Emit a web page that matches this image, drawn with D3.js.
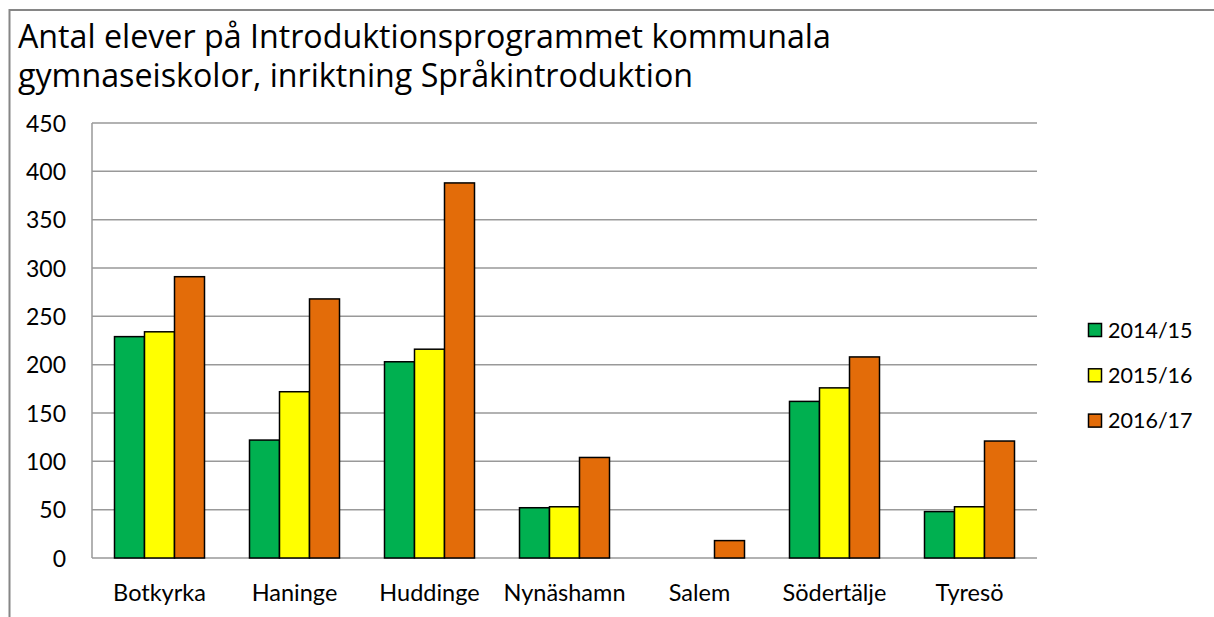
<!DOCTYPE html>
<html>
<head>
<meta charset="utf-8">
<script src="https://cdn.jsdelivr.net/npm/d3@7"></script>
<style>
  body { margin: 0; background: white; }
  text { font-family: Lato, "Open Sans", sans-serif; fill: #000; }
</style>
</head>
<body>
<div id="chart"></div>
<script>
let width = 1214;
let height = 617;

let titleLines = ["Antal elever på Introduktionsprogrammet kommunala",
                  "gymnaseiskolor, inriktning Språkintroduktion"];

let kommuner = ["Botkyrka", "Haninge", "Huddinge", "Nynäshamn", "Salem", "Södertälje", "Tyresö"];
let serier = ["2014/15", "2015/16", "2016/17"];
let farger = ["#00B050", "#FFFF00", "#E36C09"];

let v2014 = [229, 122, 203, 52, 0, 162, 48];
let v2015 = [234, 172, 216, 53, 0, 176, 53];
let v2016 = [291, 268, 388, 104, 18, 208, 121];

let yTicks = [0, 50, 100, 150, 200, 250, 300, 350, 400, 450];

let values = [v2014, v2015, v2016];

let svg = d3.select("#chart")
	.append("svg")
	.attr("width", width)
	.attr("height", height)
	.style("background-color", "white");

// chart border (only top and left visible in the picture)
svg.append("rect")
	.attr("x", 9.5).attr("y", 10)
	.attr("width", 1240).attr("height", 640)
	.attr("fill", "none")
	.attr("stroke", "#868686")
	.attr("stroke-width", 2);

let title = svg.append("text")
	.style("font-family", "'Open Sans', sans-serif")
	.style("font-size", "100px");
title.selectAll("tspan")
	.data(titleLines)
	.enter().append("tspan")
	.attr("x", 18)
	.attr("y", function(d, i){ return 48 + i * 39; })
	.text(function(d){ return d; });
// fit first line to the width it has in the picture
let w100 = title.select("tspan").node().getComputedTextLength();
title.style("font-size", (100 * 813 / w100) + "px");

let plotLeft = 92, plotRight = 1037, plotTop = 123, plotBottom = 558;

let x = d3.scaleBand().domain(kommuner).range([plotLeft, plotRight]).paddingInner(1/3).paddingOuter(1/6);
let xs = d3.scaleBand().domain(serier).range([0, x.bandwidth()]);
let y = d3.scaleLinear().domain([0, 450]).range([plotBottom, plotTop]);

// gridlines
svg.append("g")
	.selectAll("line")
	.data(yTicks)
	.enter().append("line")
	.attr("x1", plotLeft).attr("x2", plotRight)
	.attr("y1", function(d){ return y(d); })
	.attr("y2", function(d){ return y(d); })
	.attr("stroke", "#999")
	.attr("stroke-width", 1.5);

svg.append("line")
	.attr("x1", plotLeft).attr("x2", plotLeft)
	.attr("y1", plotTop).attr("y2", plotBottom)
	.attr("stroke", "#999")
	.attr("stroke-width", 1.5);

// y axis labels
let yAxis = svg.append("g")
	.attr("transform", "translate(" + (plotLeft - 26) + ",0)")
	.call(d3.axisLeft(y).tickValues(yTicks).tickSize(0).tickPadding(0));
yAxis.select(".domain").remove();
yAxis.selectAll("text")
	.style("font-size", "23px")
	.style("font-family", "Lato, sans-serif")
	.attr("fill", "#000")
	.attr("dy", "0.36em");

// x axis labels
let xAxis = svg.append("g")
	.attr("transform", "translate(0," + plotBottom + ")")
	.call(d3.axisBottom(x).tickSize(0).tickPadding(0));
xAxis.select(".domain").remove();
xAxis.selectAll("text")
	.style("font-size", "23.5px")
	.style("font-family", "Lato, sans-serif")
	.attr("fill", "#000")
	.attr("y", 43)
	.attr("dy", 0);

// bars
let groups = svg.append("g")
	.selectAll("g")
	.data(serier)
	.enter().append("g")
	.attr("fill", function(d, i){ return farger[i]; });

groups.selectAll("rect")
	.data(function(d, i){ return values[i].map(function(v, j){ return {serie: d, kommun: kommuner[j], value: v}; }); })
	.enter().append("rect")
	.filter(function(d){ return d.value > 0; })
	.attr("x", function(d){ return x(d.kommun) + xs(d.serie); })
	.attr("y", function(d){ return y(d.value); })
	.attr("width", xs.bandwidth())
	.attr("height", function(d){ return y(0) - y(d.value); })
	.attr("stroke", "#000")
	.attr("stroke-width", 1.5);

// legend
let legend = svg.append("g")
	.attr("transform", "translate(1088, 330)")
	.selectAll("g")
	.data(serier)
	.enter().append("g")
	.attr("transform", function(d, i){ return "translate(0," + i * 45.3 + ")"; });

legend.append("rect")
	.attr("x", 0.5).attr("y", -6.5)
	.attr("width", 13).attr("height", 13)
	.attr("fill", function(d, i){ return farger[i]; })
	.attr("stroke", "#000")
	.attr("stroke-width", 1.5);

legend.append("text")
	.attr("x", 20)
	.attr("dy", "0.36em")
	.style("font-size", "21.5px")
	.text(function(d){ return d; });
</script>
</body>
</html>
